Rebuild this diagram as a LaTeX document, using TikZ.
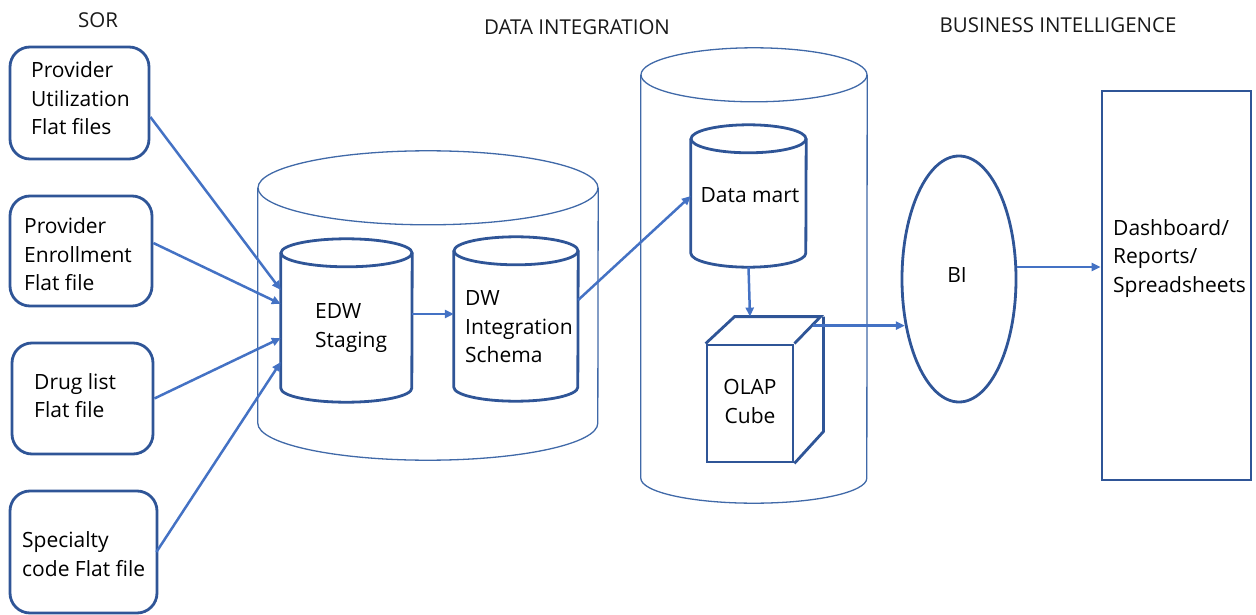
\documentclass[tikz,border=0pt]{standalone}
\usepackage{fontspec}
\setmainfont{Open Sans}
\usetikzlibrary{arrows.meta,shapes.geometric,calc}
\definecolor{boxblue}{HTML}{2F5597}
\definecolor{arrblue}{HTML}{4472C4}
\definecolor{thinblue}{HTML}{4069A8}
\begin{document}
\begin{tikzpicture}[x=1pt,y=-1pt,
  boxline/.style={draw=boxblue,line width=2.8pt},
  sorbox/.style={boxline,rounded corners=20pt,inner sep=0pt},
  body/.style={inner sep=0pt,draw=none},
  txt/.style={inner sep=0pt,align=left,font=\fontsize{21}{28.5}\selectfont,text=black},
  head/.style={inner sep=0pt,font=\fontsize{20.5}{24}\selectfont,text=black!90},
  flow/.style={draw=arrblue,line width=2.5pt,-{Triangle[length=9pt,width=8pt]}},
  bigcyl/.style={draw=thinblue,line width=1.3pt},
  smallcyl/.style={boxline},
]
\useasboundingbox (0,0) rectangle (1256,615);

% headers
\node[head] (hsor) at (98,20) {SOR};
\node[head] (hdi) at (577,27) {DATA INTEGRATION};
\node[head] (hbi) at (1058,25) {BUSINESS INTELLIGENCE};

% SOR boxes
\node[sorbox,minimum width=139pt,minimum height=112pt] (b1) at (79.5,103) {};
\node[txt,anchor=west] (t1) at (31,98.5) {Provider\\Utilization\\Flat files};
\node[sorbox,minimum width=142pt,minimum height=110pt] (b2) at (81,251) {};
\node[txt,anchor=west] (t2) at (24,254.5) {Provider\\Enrollment\\Flat file};
\node[sorbox,minimum width=141pt,minimum height=111pt] (b3) at (82.5,398.5) {};
\node[txt,anchor=west] (t3) at (34,395.5) {Drug list\\Flat file};
\node[sorbox,minimum width=147pt,minimum height=122pt] (b4) at (83.5,552) {};
\node[txt,anchor=west] (t4) at (22,554) {Specialty\\code Flat file};

% big cylinder 1
\node[body,minimum width=340pt,minimum height=235pt] (big1) at (428,305.5) {};
\draw[bigcyl] (big1.north) ellipse[x radius=170,y radius=37];
\draw[bigcyl] (big1.north west) -- (big1.south west)
  arc[start angle=180,end angle=0,x radius=170,y radius=37] -- (big1.north east);

% EDW staging cylinder
\node[body,minimum width=131pt,minimum height=135pt] (edw) at (346.5,320.5) {};
\draw[smallcyl] (edw.north) ellipse[x radius=65.5,y radius=14];
\draw[smallcyl] (edw.north west) -- (edw.south west)
  arc[start angle=180,end angle=0,x radius=65.5,y radius=14] -- (edw.north east);
\node[txt,anchor=west] (tedw) at (315,328) {EDW\\Staging};

% DW integration schema cylinder
\node[body,minimum width=124pt,minimum height=136pt] (dw) at (516,319) {};
\draw[smallcyl] (dw.north) ellipse[x radius=62,y radius=14];
\draw[smallcyl] (dw.north west) -- (dw.south west)
  arc[start angle=180,end angle=0,x radius=62,y radius=14] -- (dw.north east);
\node[txt,anchor=west] (tdw) at (465,327) {DW\\Integration\\Schema};

% big cylinder 2
\node[body,minimum width=226pt,minimum height=403pt] (big2) at (754,276.5) {};
\draw[bigcyl] (big2.north) ellipse[x radius=113,y radius=27];
\draw[bigcyl] (big2.north west) -- (big2.south west)
  arc[start angle=180,end angle=0,x radius=113,y radius=25] -- (big2.north east);

% data mart cylinder
\node[body,minimum width=115pt,minimum height=114pt] (dm) at (748.5,196) {};
\draw[smallcyl] (dm.north) ellipse[x radius=57.5,y radius=14];
\draw[smallcyl] (dm.north west) -- (dm.south west)
  arc[start angle=180,end angle=0,x radius=57.5,y radius=14] -- (dm.north east);
\node[txt] (tdm) at (750,195) {Data mart};

% OLAP cube
\node[boxline,inner sep=0pt,minimum width=86pt,minimum height=117pt] (cube) at (750,403.5) {};
\draw[boxline,line join=miter] (cube.north west) -- ++(29,-27) -- ++(86,0) -- (cube.north east);
\draw[boxline,line join=miter] (cube.north east) ++(29,-27) -- ++(0,115) -- (cube.south east);
\node[txt,align=center] (tcube) at (750,401.5) {OLAP\\Cube};

% BI ellipse
\node[ellipse,boxline,inner sep=0pt,minimum width=114pt,minimum height=246pt] (bi) at (959,279) {};
\node[txt] (tbi) at (957,275) {BI};

% dashboard
\node[boxline,inner sep=0pt,minimum width=149pt,minimum height=389pt] (dash) at (1176.5,285.5) {};
\node[txt,anchor=west] (tdash) at (1113,258.5) {Dashboard/\\Reports/\\Spreadsheets};

% connectors
\draw[flow] ([yshift=-14pt]b1.east) -- ([yshift=30.5pt]edw.west);
\draw[flow] ([yshift=8pt]b2.east) -- ([yshift=16.5pt]edw.west);
\draw[flow] (b3.east) -- ([yshift=-17.5pt]edw.west);
\draw[flow] ([xshift=-2pt]b4.east) -- ([yshift=-41.5pt]edw.west);
\draw[flow] ([yshift=6.5pt]edw.east) -- ([yshift=5pt]dw.west);
\draw[flow] ([yshift=19pt]dw.east) -- (dm.west);
\draw[flow] ([yshift=-14pt]dm.south) -- ([yshift=27pt]cube.north);
\coordinate (cs) at ([xshift=19pt,yshift=18pt]cube.north east);
\draw[flow] (cs) -- (cs -| bi.221);
\draw[flow] ([yshift=12pt]bi.east) -- ([yshift=18.5pt]dash.west);
\end{tikzpicture}
\end{document}
